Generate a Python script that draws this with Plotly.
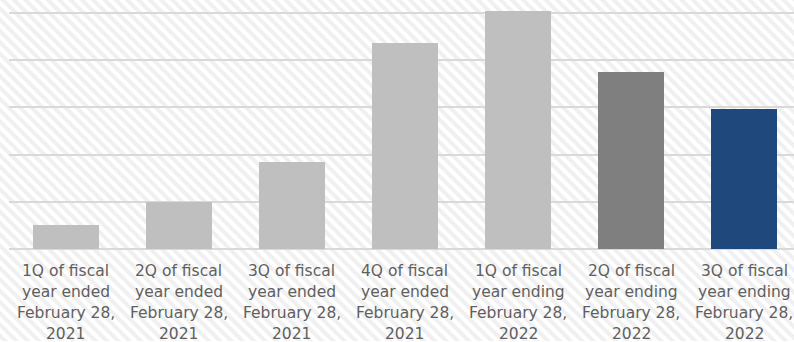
import base64
import plotly.graph_objects as go

# ---- data ----
categories = [
    "1Q of fiscal|year ended|February 28,|2021",
    "2Q of fiscal|year ended|February 28,|2021",
    "3Q of fiscal|year ended|February 28,|2021",
    "4Q of fiscal|year ended|February 28,|2021",
    "1Q of fiscal|year ending|February 28,|2022",
    "2Q of fiscal|year ending|February 28,|2022",
    "3Q of fiscal|year ending|February 28,|2022",
]
values = [51, 100, 185, 436, 504, 375, 297]
bar_colors = ["#bfbfbf", "#bfbfbf", "#bfbfbf", "#bfbfbf", "#bfbfbf", "#7f7f7f", "#1f497d"]

W, H = 794, 342
ML, MR, MT, MB = 9, 0, 0, 92.5
YMAX = 527

xs = list(range(len(categories)))

fig = go.Figure()
fig.add_trace(go.Bar(
    x=xs, y=values, width=0.584,
    marker=dict(color=bar_colors, line=dict(width=0)),
    hoverinfo="skip",
))

# hatched background
svg = f'''<svg xmlns="http://www.w3.org/2000/svg" width="{W}" height="{H}">
<defs><pattern id="p" patternUnits="userSpaceOnUse" width="8" height="8" patternTransform="rotate(-45)">
<rect x="0" y="0" width="8" height="8" fill="#ffffff"/>
<rect x="0" y="0" width="4" height="8" fill="#f0f0f0"/>
</pattern></defs>
<rect width="{W}" height="{H}" fill="url(#p)"/>
</svg>'''
src = "data:image/svg+xml;base64," + base64.b64encode(svg.encode()).decode()
pw = W - ML - MR
ph = H - MT - MB
fig.add_layout_image(dict(
    source=src, xref="paper", yref="paper",
    x=-ML / pw, y=1 + MT / ph, sizex=W / pw, sizey=H / ph,
    xanchor="left", yanchor="top", sizing="stretch", layer="below",
))

# category labels (multi-line)
annotations = []
for i, cat in enumerate(categories):
    for j, line in enumerate(cat.split("|")):
        annotations.append(dict(
            x=i, y=0, xref="x", yref="paper", text=line, showarrow=False,
            xanchor="center", yanchor="middle", yshift=-(21.5 + 21.3 * j),
            font=dict(family="DejaVu Sans", size=15.5, color="#5f5f5f"),
        ))

fig.update_layout(
    width=W, height=H,
    margin=dict(l=ML, r=MR, t=MT, b=MB, pad=0),
    paper_bgcolor="white", plot_bgcolor="rgba(0,0,0,0)",
    showlegend=False, bargap=0,
    annotations=annotations,
    xaxis=dict(range=[-0.5, 6.44], showticklabels=False,
               showgrid=False, zeroline=False, showline=False, ticks=""),
    yaxis=dict(range=[0, YMAX], dtick=100, showticklabels=False,
               showgrid=True, gridcolor="#d9d9d9", gridwidth=1.5,
               zeroline=True, zerolinecolor="#d9d9d9", zerolinewidth=1.5,
               showline=False, ticks=""),
)

fig.write_html("out.html")
